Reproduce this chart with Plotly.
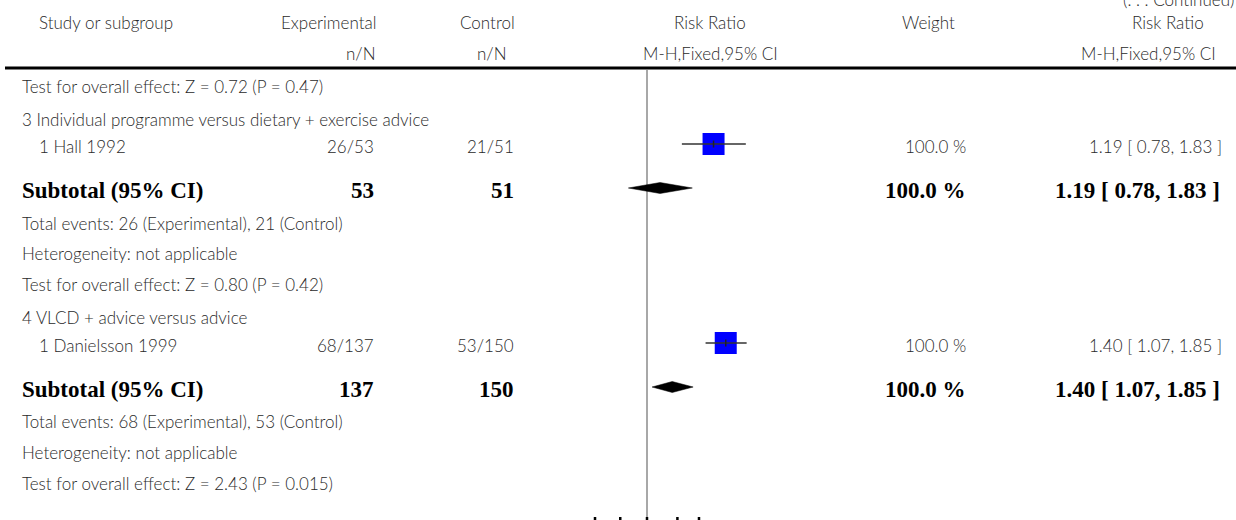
import math
import plotly.graph_objects as go

# ---------------- data ----------------
prev_test = "Test for overall effect: Z = 0.72 (P = 0.47)"
subgroups = ["3 Individual programme versus dietary + exercise advice",
             "4 VLCD + advice versus advice"]
studies = ["1 Hall 1992", "1 Danielsson 1999"]
exp_n = [26, 68]
exp_N = [53, 137]
ctl_n = [21, 53]
ctl_N = [51, 150]
rr = [1.19, 1.40]
rr_lo = [0.78, 1.07]
rr_hi = [1.83, 1.85]
weights = [100.0, 100.0]
sub_rr = [1.19, 1.40]
sub_lo = [0.78, 1.07]
sub_hi = [1.83, 1.85]
z_vals = ["0.80", "2.43"]
p_vals = ["0.42", "0.015"]
axis_ticks = [0.5, 0.7, 1, 1.5, 2]

# ---------------- layout helpers ----------------
W, H = 1236, 520
PX_PER_LN = 75.0
LN10 = math.log(10)

def log_range(x_at_one):
    return [-(x_at_one) / (PX_PER_LN * LN10), (W - x_at_one) / (PX_PER_LN * LN10)]

REG = dict(family="Lato, 'Open Sans', sans-serif", size=17, color="#2a2a2a", weight=300)
BOLD = dict(family="'Liberation Serif', 'DejaVu Serif', serif", size=23, color="#000000", weight="bold")

ann = []
def txt(x, y, s, anchor="left", font=REG):
    ann.append(dict(x=x, y=y, xref="x", yref="y", text=s, showarrow=False,
                    xanchor=anchor, yanchor="middle", font=font))

# header (clipped continuation note at the very top)
ann.append(dict(x=1.0, y=1.0 + 1.0 / H, xref="paper", yref="paper", text="(. . . Continued)",
                showarrow=False, xanchor="right", yanchor="middle", font=REG))
txt(37, 22, "Study or subgroup")
txt(378, 22, "Experimental", "right")
txt(517, 22, "Control", "right")
txt(710, 22, "Risk Ratio", "center")
txt(928, 22, "Weight", "center")
txt(1206, 22, "Risk Ratio", "right")
txt(378, 53, "n/N", "right")
txt(509, 53, "n/N", "right")
txt(710, 53, "M-H,Fixed,95% CI", "center")
txt(1218, 53, "M-H,Fixed,95% CI", "right")

txt(20, 86, prev_test)

group_rows = [(119, 146, 190, 223, 253, 284), (317, 345, 389, 421, 452, 483)]
mark_y_study = []
mark_y_sub = []
for i, (yg, ys, ysub, yev, yhet, ytest) in enumerate(group_rows):
    txt(20, yg, subgroups[i])
    txt(37, ys, studies[i])
    txt(376, ys, f"{exp_n[i]}/{exp_N[i]}", "right")
    txt(516, ys, f"{ctl_n[i]}/{ctl_N[i]}", "right")
    txt(968, ys, f"{weights[i]:.1f} %", "right")
    txt(1224, ys, f"{rr[i]:.2f} [ {rr_lo[i]:.2f}, {rr_hi[i]:.2f} ]", "right")
    txt(20, ysub, "Subtotal (95% CI)", "left", BOLD)
    txt(376, ysub, f"{exp_N[i]}", "right", BOLD)
    txt(516, ysub, f"{ctl_N[i]}", "right", BOLD)
    txt(968, ysub, f"{weights[i]:.1f} %", "right", BOLD)
    txt(1222, ysub, f"{sub_rr[i]:.2f} [ {sub_lo[i]:.2f}, {sub_hi[i]:.2f} ]", "right", BOLD)
    txt(20, yev, f"Total events: {exp_n[i]} (Experimental), {ctl_n[i]} (Control)")
    txt(20, yhet, "Heterogeneity: not applicable")
    txt(20, ytest, f"Test for overall effect: Z = {z_vals[i]} (P = {p_vals[i]})")
    mark_y_study.append(ys - 2)
    mark_y_sub.append(ysub - 2)

fig = go.Figure()

# vertical no-effect line (diamond coordinate system)
fig.add_trace(go.Scatter(x=[1, 1], y=[70, 518], mode="lines",
                         line=dict(color="#a8a8a8", width=2),
                         xaxis="x2", yaxis="y", hoverinfo="skip", showlegend=False))

# axis ticks at bottom
for t in axis_ticks:
    fig.add_trace(go.Scatter(x=[t, t], y=[517, 524], mode="lines",
                             line=dict(color="#000000", width=2.5),
                             xaxis="x2", yaxis="y", hoverinfo="skip", showlegend=False))

# diamonds
for i in range(len(sub_rr)):
    y = mark_y_sub[i]
    h = 5.5
    fig.add_trace(go.Scatter(x=[sub_lo[i], sub_rr[i], sub_hi[i], sub_rr[i], sub_lo[i]],
                             y=[y, y - h, y, y + h, y], mode="lines", fill="toself",
                             fillcolor="#000000", line=dict(color="#000000", width=0.5),
                             xaxis="x2", yaxis="y", hoverinfo="skip", showlegend=False))

# study squares + CI lines
fig.add_trace(go.Scatter(x=rr, y=mark_y_study, mode="markers",
                         marker=dict(symbol="square", size=22, color="#0000ff",
                                     line=dict(width=0)),
                         xaxis="x3", yaxis="y", hoverinfo="skip", showlegend=False))
for i in range(len(rr)):
    fig.add_trace(go.Scatter(x=[rr_lo[i], rr_hi[i]], y=[mark_y_study[i]] * 2, mode="lines",
                             line=dict(color="#333333", width=1.5),
                             xaxis="x3", yaxis="y", hoverinfo="skip", showlegend=False))
fig.add_trace(go.Scatter(x=rr, y=mark_y_study, mode="markers",
                         marker=dict(symbol="line-ns", size=5,
                                     line=dict(width=1.5, color="#222222")),
                         xaxis="x3", yaxis="y", hoverinfo="skip", showlegend=False))

# header rule
fig.add_shape(type="line", xref="x", yref="y", x0=5, x1=1236, y0=68, y1=68,
              line=dict(color="#000000", width=3))

fig.update_layout(
    width=W, height=H,
    margin=dict(l=0, r=0, t=0, b=0),
    paper_bgcolor="white", plot_bgcolor="white",
    xaxis=dict(range=[0, W], visible=False, fixedrange=True),
    yaxis=dict(range=[H, 0], visible=False, fixedrange=True),
    xaxis2=dict(type="log", range=log_range(647), overlaying="x", anchor="y",
                visible=False, fixedrange=True),
    xaxis3=dict(type="log", range=log_range(700.5), overlaying="x", anchor="y",
                visible=False, fixedrange=True),
    annotations=ann,
    showlegend=False,
)

fig.write_html("out.html", config={"displayModeBar": False},
               post_script="document.body.style.margin='0';document.body.style.overflow='hidden';")
